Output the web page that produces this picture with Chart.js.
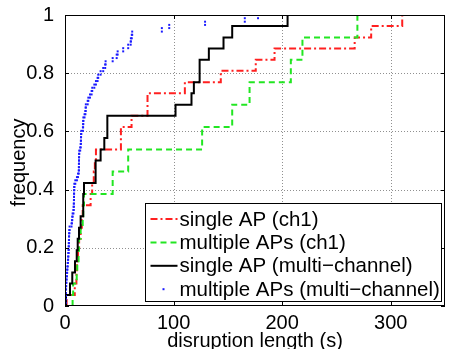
<!DOCTYPE html>
<html>
<head>
<meta charset="utf-8">
<title>disruption length CDF</title>
<script src="https://cdn.jsdelivr.net/npm/chart.js@4.4.0/dist/chart.umd.min.js"></script>
<style>
  html, body { margin: 0; padding: 0; background: #fff; }
  #wrap { width: 449px; height: 349px; }
</style>
</head>
<body>
<div id="wrap"><canvas id="cdfChart" width="449" height="349"></canvas></div>
<script>
// --- data (disruption length in s, cumulative frequency) ---
const redX = [1.5, 1.5, 9, 10.5, 11, 12, 13, 14.4, 15.5, 16.3, 23.6, 25, 26.5, 27.5, 28.5, 51.5, 51.5, 61.3, 76, 76, 110.4, 143.5, 175.7, 193, 266.8, 282, 310.6];
const redY = [0, 0.038, 0.077, 0.115, 0.154, 0.192, 0.231, 0.269, 0.308, 0.346, 0.385, 0.423, 0.462, 0.5, 0.538, 0.577, 0.615, 0.654, 0.692, 0.731, 0.769, 0.808, 0.846, 0.885, 0.923, 0.962, 1];

const greenX = [7, 7, 7.5, 10.8, 11.3, 12.5, 12.9, 14.4, 16.3, 16.8, 17.5, 43.9, 43.9, 58.2, 58.2, 126.3, 126.3, 154, 154, 170, 170, 208, 208, 218.7, 218.7, 269.3, 269.3];
const greenY = [0, 0.038, 0.077, 0.115, 0.154, 0.192, 0.231, 0.269, 0.308, 0.346, 0.385, 0.423, 0.462, 0.5, 0.538, 0.577, 0.615, 0.654, 0.692, 0.731, 0.769, 0.808, 0.846, 0.885, 0.923, 0.962, 1];

const blackX = [0.9, 0.9, 4.6, 6.7, 9.2, 10.8, 11.7, 12.9, 14.4, 16.8, 16.8, 17.5, 28.2, 28.2, 32.8, 36.2, 39, 39, 101.8, 116.5, 118.7, 124, 124, 132.5, 146, 154, 205];
const blackY = [0, 0.038, 0.077, 0.115, 0.154, 0.192, 0.231, 0.269, 0.308, 0.346, 0.385, 0.423, 0.462, 0.5, 0.538, 0.577, 0.615, 0.654, 0.692, 0.731, 0.769, 0.808, 0.846, 0.885, 0.923, 0.962, 1];

// blue: one sample per entry, drawn as two dots (before / after the step)
const blueX = [0.5, 0.5, 0.6, 0.7, 0.8, 1.0, 1.1, 1.3, 1.5, 1.8, 2.0, 2.2, 2.5, 2.7, 2.9, 3.1, 3.3,
  3.4, 3.5, 3.6, 3.7, 3.8, 4.0, 4.2, 6.0, 6.4, 6.7, 7.0, 7.8, 8.0, 8.1, 8.2, 8.3, 8.3, 8.4, 8.5, 8.6,
  9.5, 11.0, 12.0, 12.7, 12.8, 12.8, 12.9, 12.9, 13.0, 13.1, 14.0, 14.5, 14.6, 14.7, 14.8, 15.0,
  16.5, 16.7, 16.8, 16.9, 18.0, 18.8, 19.0, 19.2, 20.9, 21.5, 23.0, 24.5, 25.1, 27.0, 28.5, 30.0, 30.6,
  32.8, 35.2, 37.0, 37.4, 43.9, 47.6, 48.5, 53.6, 58.2, 60.5, 60.7, 61.5, 61.9, 89.2, 96, 129, 165.6, 177.8];
const blueY = [0.011, 0.023, 0.034, 0.045, 0.057, 0.068, 0.080, 0.091, 0.102, 0.114, 0.125, 0.136, 0.148,
  0.159, 0.170, 0.182, 0.193, 0.205, 0.216, 0.227, 0.239, 0.250, 0.261, 0.273, 0.284, 0.295, 0.307, 0.318,
  0.330, 0.341, 0.352, 0.364, 0.375, 0.386, 0.398, 0.409, 0.420, 0.432, 0.443, 0.455, 0.466, 0.477, 0.489,
  0.500, 0.511, 0.523, 0.534, 0.545, 0.557, 0.568, 0.580, 0.591, 0.602, 0.614, 0.625, 0.636, 0.648, 0.659,
  0.670, 0.682, 0.693, 0.705, 0.716, 0.727, 0.739, 0.750, 0.761, 0.773, 0.784, 0.795, 0.807, 0.818, 0.830,
  0.841, 0.852, 0.864, 0.875, 0.886, 0.898, 0.909, 0.920, 0.932, 0.943, 0.955, 0.966, 0.977, 0.989, 1.000];

const seriesNames = ['single AP (ch1)', 'multiple APs (ch1)', 'single AP (multi\u2212channel)', 'multiple APs (multi\u2212channel)'];
const xTicks = [0, 100, 200, 300];
const yTicks = [0, 0.2, 0.4, 0.6, 0.8, 1];
const xMax = 350;

const FONT = '"Liberation Sans", Arial, Helvetica, sans-serif';

function toPoints(xs, ys) {
    return xs.map((x, i) => ({ x: x, y: ys[i] }));
}

// each blue sample gives a dot at the old and at the new frequency
const bluePoints = [];
blueX.forEach((x, i) => {
    bluePoints.push({ x: x, y: i === 0 ? 0 : blueY[i - 1] });
    bluePoints.push({ x: x, y: blueY[i] });
});

const styles = [
    { color: '#ff2020', dash: [7, 3, 2, 3], width: 2 },
    { color: '#22e622', dash: [6, 4], width: 2 },
    { color: '#000000', dash: [], width: 2 },
    { color: '#1a1aff', dash: null, width: 0 }
];

// grid, frame, inner ticks, titles and boxed legend
const decorations = {
    id: 'decorations',
    beforeDatasetsDraw(chart) {
        const { ctx, chartArea: a, scales } = chart;
        ctx.save();
        ctx.strokeStyle = '#909090';
        ctx.lineWidth = 1;
        ctx.setLineDash([1, 2]);
        xTicks.forEach(v => {
            if (v <= 0 || v >= xMax) return;
            const px = Math.round(scales.x.getPixelForValue(v)) + 0.5;
            ctx.beginPath(); ctx.moveTo(px, a.top); ctx.lineTo(px, a.bottom); ctx.stroke();
        });
        yTicks.forEach(v => {
            if (v <= 0 || v >= 1) return;
            const py = Math.round(scales.y.getPixelForValue(v)) + 0.5;
            ctx.beginPath(); ctx.moveTo(a.left, py); ctx.lineTo(a.right, py); ctx.stroke();
        });
        ctx.restore();
    },
    afterDraw(chart) {
        const { ctx, chartArea: a, scales } = chart;
        ctx.save();
        ctx.setLineDash([]);
        ctx.strokeStyle = '#000';
        ctx.lineWidth = 1;

        // frame
        ctx.strokeRect(Math.round(a.left) + 0.5, Math.round(a.top) + 0.5,
            Math.round(a.right - a.left) - 1, Math.round(a.bottom - a.top) - 1);

        // inward tick marks on all four sides
        const tl = 4;
        ctx.beginPath();
        xTicks.forEach(v => {
            const px = Math.round(scales.x.getPixelForValue(v)) + 0.5;
            ctx.moveTo(px, a.bottom); ctx.lineTo(px, a.bottom - tl);
            ctx.moveTo(px, a.top); ctx.lineTo(px, a.top + tl);
        });
        yTicks.forEach(v => {
            const py = Math.round(scales.y.getPixelForValue(v)) + 0.5;
            ctx.moveTo(a.left, py); ctx.lineTo(a.left + tl, py);
            ctx.moveTo(a.right, py); ctx.lineTo(a.right - tl, py);
        });
        ctx.stroke();

        // axis titles
        ctx.fillStyle = '#000';
        ctx.font = '20px ' + FONT;
        ctx.textAlign = 'center';
        ctx.textBaseline = 'middle';
        ctx.fillText('disruption length (s)', (a.left + a.right) / 2, 341);
        ctx.save();
        ctx.translate(19, (a.top + a.bottom) / 2 + 2);
        ctx.rotate(-Math.PI / 2);
        ctx.fillText('frequency', 0, 0);
        ctx.restore();

        // legend box
        const lx = Math.round(a.right - 300) + 0.5;
        const ly = Math.round(a.bottom - 103) + 0.5;
        const lw = 296, lh = 98;
        ctx.fillStyle = '#fff';
        ctx.fillRect(lx, ly, lw, lh);
        ctx.strokeStyle = '#000';
        ctx.lineWidth = 1;
        ctx.strokeRect(lx, ly, lw, lh);

        ctx.font = '20.5px ' + FONT;
        ctx.textAlign = 'left';
        seriesNames.forEach((name, i) => {
            const cy = ly + 15.5 + i * 23.4;
            const s = styles[i];
            if (s.dash) {
                ctx.strokeStyle = s.color;
                ctx.lineWidth = s.width;
                ctx.setLineDash(s.dash);
                ctx.beginPath();
                ctx.moveTo(lx + 5, cy); ctx.lineTo(lx + 32, cy);
                ctx.stroke();
                ctx.setLineDash([]);
            } else {
                ctx.fillStyle = s.color;
                ctx.fillRect(lx + 17, cy - 1, 2, 2);
            }
            ctx.fillStyle = '#000';
            ctx.fillText(name, lx + 34, cy + 1);
        });
        ctx.restore();
    }
};

new Chart(document.getElementById('cdfChart'), {
    type: 'scatter',
    data: {
        datasets: [
            {
                label: seriesNames[0],
                data: toPoints(redX, redY),
                showLine: true, stepped: true,
                borderColor: styles[0].color, borderWidth: styles[0].width, borderDash: styles[0].dash,
                pointRadius: 0, order: 3
            },
            {
                label: seriesNames[1],
                data: toPoints(greenX, greenY),
                showLine: true, stepped: true,
                borderColor: styles[1].color, borderWidth: styles[1].width, borderDash: styles[1].dash,
                pointRadius: 0, order: 2
            },
            {
                label: seriesNames[2],
                data: toPoints(blackX, blackY),
                showLine: true, stepped: true,
                borderColor: styles[2].color, borderWidth: styles[2].width,
                pointRadius: 0, order: 1
            },
            {
                label: seriesNames[3],
                data: bluePoints,
                showLine: false,
                pointStyle: 'rect', pointRadius: 1.4, borderWidth: 0,
                backgroundColor: styles[3].color, borderColor: styles[3].color,
                order: 0
            }
        ]
    },
    options: {
        responsive: false,
        animation: false,
        events: [],
        layout: { padding: { left: 0, right: 3, top: 11, bottom: 0 } },
        plugins: {
            legend: { display: false },
            tooltip: { enabled: false }
        },
        scales: {
            x: {
                type: 'linear', min: 0, max: xMax,
                afterBuildTicks: scale => { scale.ticks = xTicks.map(v => ({ value: v })); },
                afterFit: scale => { scale.height = 43; },
                grid: { display: false },
                border: { display: false },
                ticks: { color: '#000', font: { size: 20, family: FONT }, padding: -3, maxRotation: 0,
                    callback: v => String(v) }
            },
            y: {
                type: 'linear', min: 0, max: 1,
                afterBuildTicks: scale => { scale.ticks = yTicks.map(v => ({ value: v })); },
                afterFit: scale => { scale.width = 65; },
                grid: { display: false },
                border: { display: false },
                ticks: { color: '#000', font: { size: 20, family: FONT }, padding: 3,
                    callback: v => String(v) }
            }
        }
    },
    plugins: [decorations]
});
</script>
</body>
</html>
